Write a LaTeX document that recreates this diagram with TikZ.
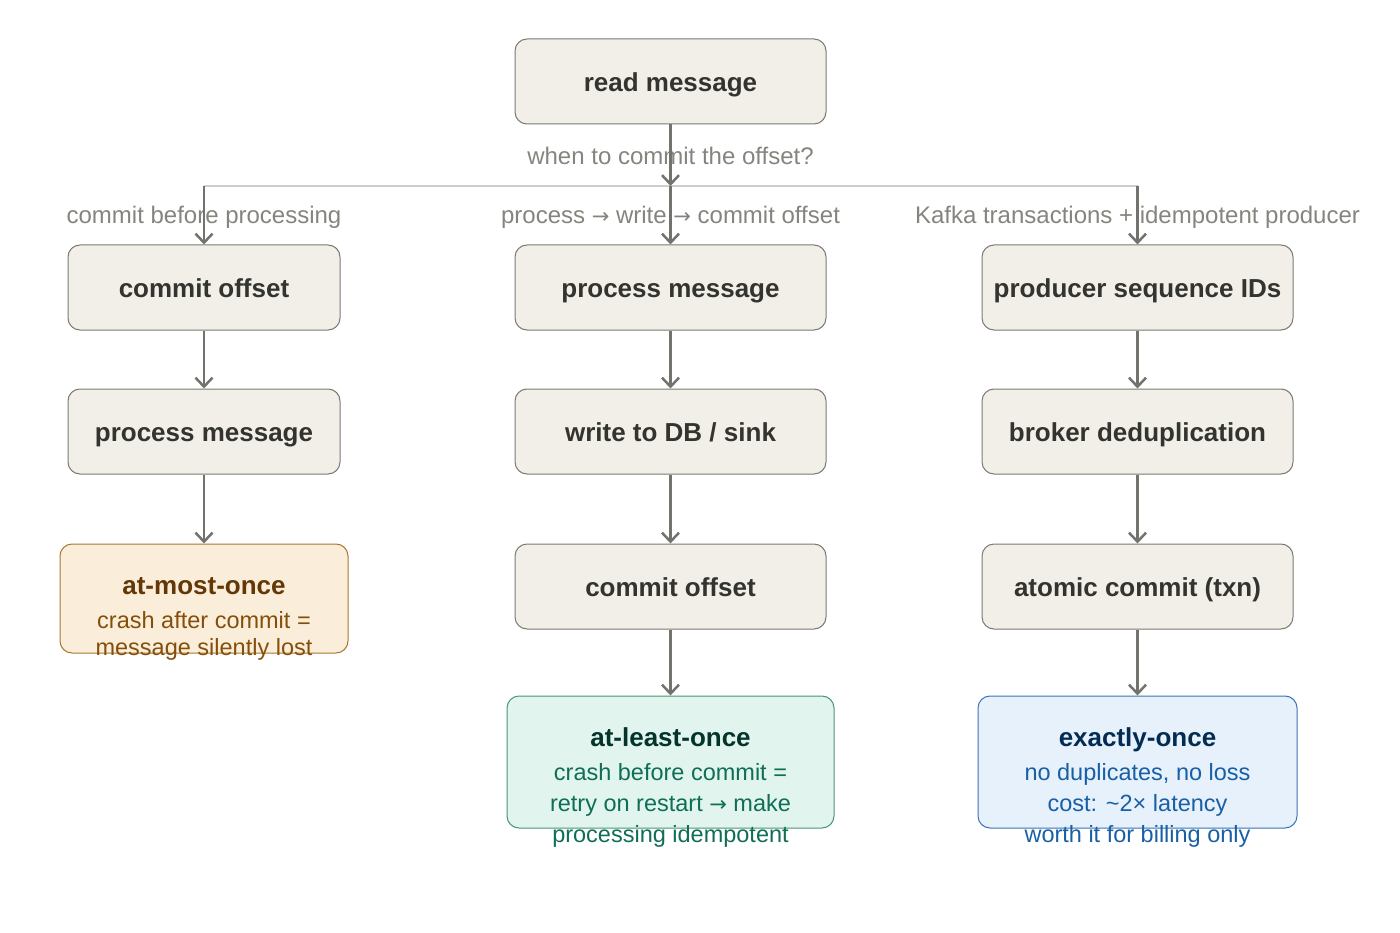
\documentclass[tikz,border=0pt]{standalone}
\usepackage{fontspec}
\setmainfont{Liberation Sans}
\newfontfamily\arrowfont{DejaVu Sans}
\newcommand{\toarrow}{{\arrowfont\fontsize{21}{21}\selectfont →}}
\usetikzlibrary{arrows.meta}
\definecolor{boxfill}{HTML}{F1EFE8}
\definecolor{boxline}{HTML}{7A7A72}
\definecolor{ink}{HTML}{33332F}
\definecolor{flowgray}{HTML}{73726C}
\definecolor{notegray}{HTML}{85847E}
\definecolor{railgray}{HTML}{CDCDCB}
\definecolor{amofill}{HTML}{FAEEDA}
\definecolor{amoline}{HTML}{A8772F}
\definecolor{amotitle}{HTML}{633806}
\definecolor{amotext}{HTML}{854F0B}
\definecolor{alofill}{HTML}{E1F5EE}
\definecolor{aloline}{HTML}{4A9478}
\definecolor{alotitle}{HTML}{04342C}
\definecolor{alotext}{HTML}{0F6E56}
\definecolor{exofill}{HTML}{E6F1FB}
\definecolor{exoline}{HTML}{3A74B4}
\definecolor{exotitle}{HTML}{042C53}
\definecolor{exotext}{HTML}{185FA5}
\begin{document}
\begin{tikzpicture}[
  x=1pt, y=-1pt,
  procbox/.style={draw=boxline, fill=boxfill, line width=1pt, rounded corners=12pt,
    minimum width=311pt, minimum height=85pt, inner sep=0pt, text=ink,
    text height=21pt, text depth=1pt,
    font=\fontsize{26}{31}\selectfont\bfseries},
  resbox/.style={line width=1pt, rounded corners=12pt, inner sep=0pt},
  restitle/.style={anchor=base, font=\fontsize{26}{31}\selectfont\bfseries},
  restext/.style={anchor=base, font=\fontsize{23.5}{31}\selectfont},
  note/.style={anchor=base, text=notegray, font=\fontsize{24}{29}\selectfont},
  flow/.style={draw=flowgray, line width=2.5pt, -{Straight Barb[length=9pt,width=17pt]}},
  rail/.style={draw=railgray, line width=1.3pt}
]
\useasboundingbox (0,0) rectangle (1400,933);

\node[procbox] (read) at (670.5,81.5) {read message};

\node[procbox, minimum width=272pt] (c1) at (204,287.5) {commit offset};
\node[procbox, minimum width=272pt] (c2) at (204,431.5) {process message};
\node[resbox, draw=amoline, fill=amofill, minimum width=288pt, minimum height=109pt] (amo) at (204,598.5) {};

\node[procbox] (p1) at (670.5,287.5) {process message};
\node[procbox] (p2) at (670.5,431.5) {write to DB / sink};
\node[procbox] (p3) at (670.5,586.5) {commit offset};
\node[resbox, draw=aloline, fill=alofill, minimum width=327pt, minimum height=132pt] (alo) at (670.5,762) {};

\node[procbox] (e1) at (1137.5,287.5) {producer sequence IDs};
\node[procbox] (e2) at (1137.5,431.5) {broker deduplication};
\node[procbox] (e3) at (1137.5,586.5) {atomic commit (txn)};
\node[resbox, draw=exoline, fill=exofill, minimum width=319pt, minimum height=132pt] (exo) at (1137.5,762) {};

\node[restitle, text=amotitle] (amot) at (204,594) {at-most-once};
\node[restext, text=amotext] (amo1) at (204,628) {crash after commit =};
\node[restext, text=amotext] (amo2) at (204,655) {message silently lost};

\node[restitle, text=alotitle] (alot) at (670.5,746) {at-least-once};
\node[restext, text=alotext] (alo1) at (670.5,780) {crash before commit =};
\node[restext, text=alotext] (alo2) at (670.5,811) {retry on restart \toarrow{} make};
\node[restext, text=alotext] (alo3) at (670.5,842) {processing idempotent};

\node[restitle, text=exotitle] (exot) at (1137.5,746) {exactly-once};
\node[restext, text=exotext] (exo1) at (1137.5,780) {no duplicates, no loss};
\node[restext, text=exotext] (exo2) at (1137.5,811) {cost: \textasciitilde 2× latency};
\node[restext, text=exotext] (exo3) at (1137.5,842) {worth it for billing only};

\coordinate (split) at (670.5,186);
\coordinate (b1) at (204,186);
\coordinate (b3) at (1137.5,186);

\node[note] (ask) at (670.5,165) {when to commit the offset?};
\node[note] (n1) at (204,224) {commit before processing};
\node[note] (n2) at (670.5,224) {process \toarrow{} write \toarrow{} commit offset};
\node[note] (n3) at (1137.5,224) {Kafka transactions + idempotent producer};

\draw[rail] (b1) -- (b3);

\draw[flow] (read) -- (split);
\draw[flow] (b1) -- (c1);
\draw[flow] (split) -- (p1);
\draw[flow] (b3) -- (e1);

\draw[flow] (c1) -- (c2);
\draw[flow] (c2) -- (amo);
\draw[flow] (p1) -- (p2);
\draw[flow] (p2) -- (p3);
\draw[flow] (p3) -- (alo);
\draw[flow] (e1) -- (e2);
\draw[flow] (e2) -- (e3);
\draw[flow] (e3) -- (exo);
\end{tikzpicture}
\end{document}
